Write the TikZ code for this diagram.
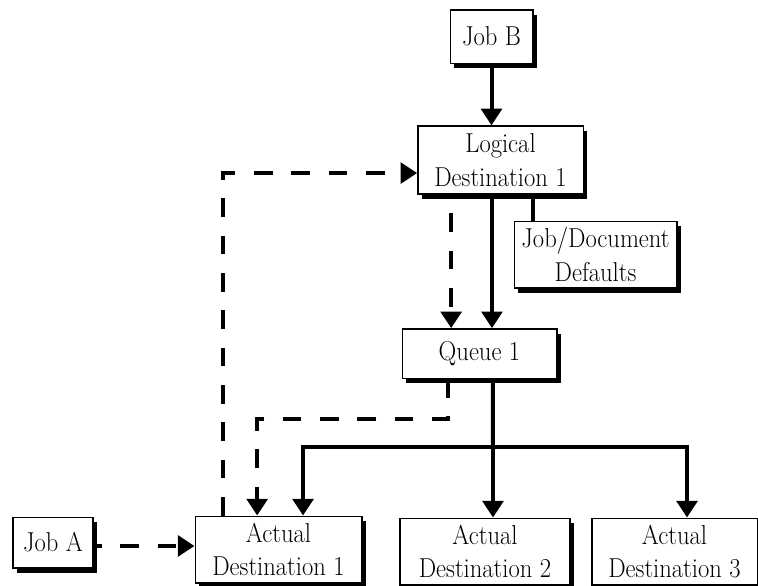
\documentclass[tikz,border=0pt]{standalone}
\usepackage{fontspec}
\setmainfont{Latin Modern Roman}[FakeStretch=0.9]
\usepackage{tikz}
\usetikzlibrary{calc}
\usetikzlibrary{arrows.meta}
\usetikzlibrary{positioning}
\usetikzlibrary{shadows}

\tikzset{
  dest/.style={draw=black, fill=white, line width=1pt, align=center,
    inner sep=1pt, font=\fontsize{20.5}{25}\selectfont,
    drop shadow={shadow xshift=3.2pt, shadow yshift=-3.6pt, fill=black, opacity=1}},
  arr/.style={line width=3pt, -{Triangle[length=12.5pt,width=15.5pt]}},
  dasharr/.style={arr, dash pattern=on 14pt off 14pt},
  link/.style={line width=3pt}
}

\begin{document}
\begin{tikzpicture}[x=0.75pt, y=-0.75pt]
            \useasboundingbox (0,0) rectangle (758,586);
            % boxes
            \node[dest, minimum width=62pt,    minimum height=40pt] (jobB)     at (491.5, 36.5) {Job B};
            \node[dest, minimum width=124pt,   minimum height=51pt] (logical)  at (500.5,160.0) {Logical\\Destination 1};
            \node[dest, minimum width=122pt,   minimum height=50pt] (defaults) at (595.5,254.5) {Job/Document\\Defaults};
            \node[dest, minimum width=116pt,   minimum height=37pt] (queue)    at (479.5,353.5) {Queue 1};
            \node[dest, minimum width=60pt,    minimum height=38pt] (jobA)     at ( 53.0,542.5) {Job A};
            \node[dest, minimum width=125pt,   minimum height=50pt] (actual1)  at (278.5,549.5) {Actual\\Destination 1};
            \node[dest, minimum width=127.5pt, minimum height=50pt] (actual2)  at (485.0,551.5) {Actual\\Destination 2};
            \node[dest, minimum width=124pt,   minimum height=50pt] (actual3)  at (674.5,551.5) {Actual\\Destination 3};
            \coordinate (split) at (493,447);
            % job B into the logical destination
            \draw[arr] (jobB.south) -- (jobB.south |- logical.north);
            \draw[link] ([xshift=24.4pt]logical.south) -- ([xshift=24.4pt]logical.south |- defaults.north);
            \draw[arr] ([xshift=-6.4pt]logical.south) -- ([xshift=-6.4pt]logical.south |- queue.north);
            \draw[dasharr, dash phase=14pt] ([xshift=-37pt]logical.south) -- ([xshift=-37pt]logical.south |- queue.north);
            % job A path
            \draw[dasharr] ([xshift=-41.6pt]actual1.north) |- ([yshift=-9.8pt]logical.west);
            \draw[dasharr] ([xshift=-23.6pt]queue.south) -- ++(0,40) -| ([xshift=-16pt]actual1.north);
            \draw[dasharr, dash phase=8pt] ([yshift=-2.6pt]jobA.east) -- ([yshift=-2.6pt]jobA.east -| actual1.west);
            % queue to the actual destinations
            \draw[link] ([xshift=10pt]queue.south) -- (split);
            \draw[arr] (split) -| ([xshift=18.4pt]actual1.north);
            \draw[arr] (split) -- (split |- actual2.north);
            \draw[arr] (split) -| ([xshift=9.4pt]actual3.north);
        \end{tikzpicture}
\end{document}
